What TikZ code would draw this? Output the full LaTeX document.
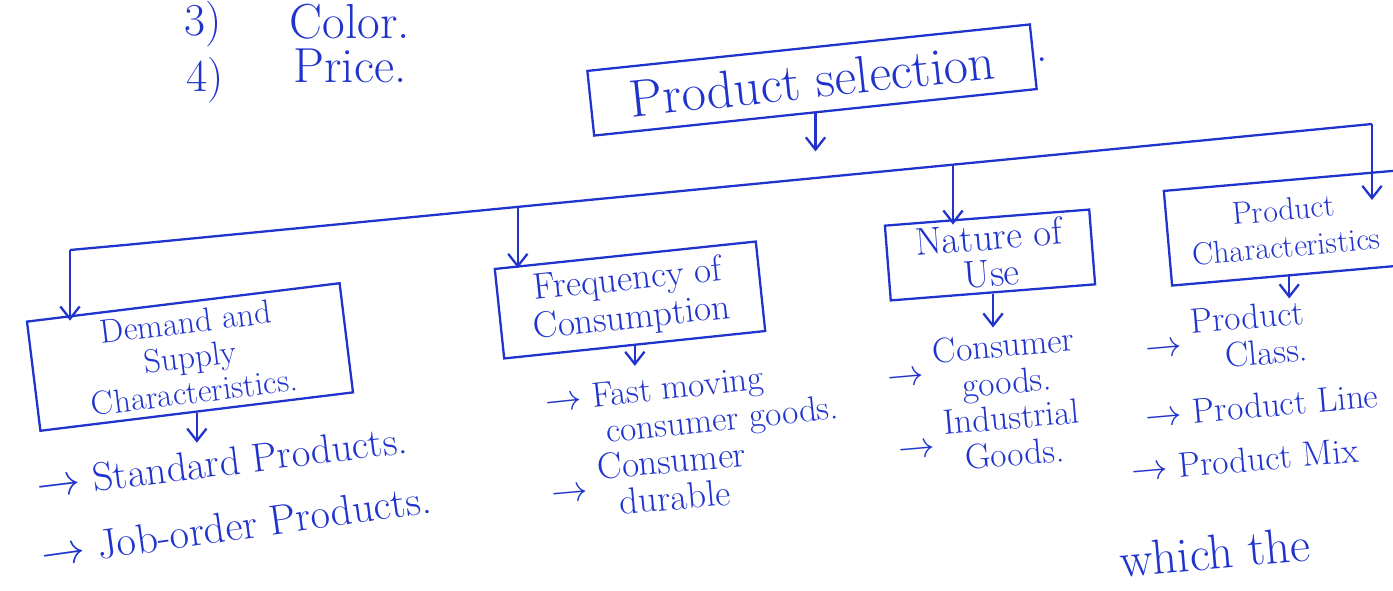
\documentclass[tikz,border=0pt]{standalone}
\usepackage{amsmath}
\usepackage{tikz}
\usetikzlibrary{arrows.meta}
\definecolor{ink}{RGB}{32,52,205}

\newcommand{\inksize}[1]{\fontsize{#1}{#1}\selectfont}

\begin{document}
\begin{tikzpicture}[x=0.02cm,y=-0.02cm,line width=1.3pt,color=ink,
    box/.style={draw=ink,align=center,inner sep=2pt},
    flow/.style={draw=ink,-{Straight Barb[length=7pt,width=11pt]}},
    item/.style={inner sep=1pt,font=\fontsize{20}{21}\selectfont}]

            % Page frame
            \useasboundingbox (0,0) rectangle (1393,591);

            % Draw list at top left
            \node[inner sep=1pt] (three) at (203,24) {\inksize{26}3)};
            \node[inner sep=1pt] (color) at (350,22) {\inksize{28}Color.};
            \node[inner sep=1pt] (four) at (205,80) {\inksize{26}4)};
            \node[inner sep=1pt] (price) at (350,66) {\inksize{28}Price.};

            % Draw boxes
            \node[box,rotate=6,minimum width=8.9cm,minimum height=1.3cm,font=\inksize{30}] (sel) at (812,80) {Product selection};
            \node (dot) at (1042,60) {\inksize{26}.};
            \node[box,rotate=7,minimum width=6.3cm,minimum height=2.2cm,font=\fontsize{19}{20}\selectfont] (dem) at (190,357) {Demand and\\ Supply\\ Characteristics.};
            \node[box,rotate=6,minimum width=5.25cm,minimum height=1.8cm,font=\fontsize{21}{22}\selectfont] (freq) at (630,300) {Frequency of\\ Consumption};
            \node[box,rotate=4.5,minimum width=4.1cm,minimum height=1.5cm,font=\fontsize{22}{21}\selectfont] (nat) at (990,255) {Nature of\\ Use};
            \node[box,rotate=5,minimum width=4.7cm,minimum height=1.9cm,font=\fontsize{18}{21}\selectfont] (pch) at (1285,228) {Product\\ Characteristics};

            % Draw main line
            \coordinate (busL) at (70,250);
            \coordinate (busK) at (125,245);
            \coordinate (busR) at (1372,124);
            \path (busK) -- (busR) coordinate[pos=0.315] (b2) coordinate[pos=0.664] (b3);
            \coordinate (pchTip) at (1372,200);

            \draw[flow] (sel.south) -- ++(0,38);
            \draw (busL) -- (busK) -- (busR);
            \draw[flow] (busL) -- (busL |- dem.north west);
            \draw[flow] (b2) -- (b2 |- freq.north west);
            \draw[flow] (b3) -- (b3 |- nat.north west);
            \draw[flow] (busR) -- (pchTip);

            % Draw items
            \node[item,rotate=7,font=\inksize{23}] (std) at (222,462) {$\rightarrow$ Standard Products.};
            \node[item,rotate=8,font=\inksize{24}] (job) at (236,526) {$\rightarrow$ Job-order Products.};
            \node[item,rotate=6] (fast) at (692,408) {$\rightarrow$ \begin{tabular}[t]{@{}l@{}}Fast moving\\ \ consumer goods.\end{tabular}};
            \node[item,rotate=5,font=\fontsize{21}{21}\selectfont] (dur) at (650,486) {$\rightarrow$ \begin{tabular}{@{}c@{}}Consumer\\ durable\end{tabular}};
            \node[item,rotate=5] (cg) at (982,370) {$\rightarrow$ \begin{tabular}{@{}c@{}}Consumer\\ goods.\end{tabular}};
            \node[item,rotate=5] (ig) at (990,442) {$\rightarrow$ \begin{tabular}{@{}c@{}}Industrial\\ Goods.\end{tabular}};
            \node[item,rotate=5] (pc) at (1226,342) {$\rightarrow$ \begin{tabular}{@{}r@{}}Product\\ Class.\end{tabular}};
            \node[item,rotate=5] (pl) at (1262,405) {$\rightarrow$ Product Line};
            \node[item,rotate=5] (pm) at (1245,460) {$\rightarrow$ Product Mix};
            \node[rotate=5,font=\inksize{28}] (which) at (1215,552) {which the};

            % Draw arrows to items
            \draw[flow] (dem.south) -- ++(0,30);
            \draw[flow] (freq.south) -- ++(0,20);
            \draw[flow] (nat.south) -- ++(0,34);
            \draw[flow] (pch.south) -- ++(0,22);
\end{tikzpicture}
\end{document}
